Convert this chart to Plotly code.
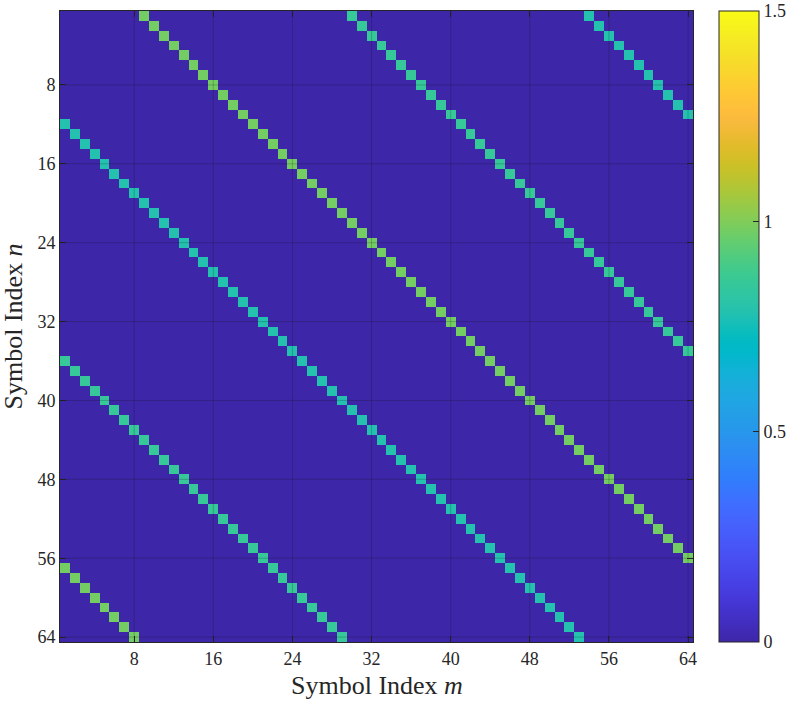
import numpy as np
import plotly.graph_objects as go

# grid size and circulant diagonals (offset = (m - n) mod N)
N = 64
offsets = [8, 29, 53]
gains = [0.98, 0.855, 0.785]
tick_vals = [8, 16, 24, 32, 40, 48, 56, 64]
cbar_ticks = [0, 0.5, 1, 1.5]

# MATLAB parula (R2014b) colormap
PARULA = [
    (0.2422, 0.1504, 0.6603), (0.2504, 0.1650, 0.7076), (0.2578, 0.1818, 0.7511),
    (0.2647, 0.1978, 0.7952), (0.2706, 0.2147, 0.8364), (0.2751, 0.2342, 0.8710),
    (0.2783, 0.2559, 0.8991), (0.2803, 0.2782, 0.9221), (0.2813, 0.3006, 0.9414),
    (0.2810, 0.3228, 0.9579), (0.2795, 0.3447, 0.9717), (0.2760, 0.3667, 0.9829),
    (0.2699, 0.3892, 0.9906), (0.2602, 0.4123, 0.9952), (0.2440, 0.4358, 0.9988),
    (0.2206, 0.4603, 0.9973), (0.1963, 0.4847, 0.9892), (0.1834, 0.5074, 0.9798),
    (0.1786, 0.5289, 0.9682), (0.1764, 0.5499, 0.9520), (0.1687, 0.5703, 0.9359),
    (0.1540, 0.5902, 0.9218), (0.1460, 0.6091, 0.9079), (0.1380, 0.6276, 0.8973),
    (0.1248, 0.6459, 0.8883), (0.1113, 0.6635, 0.8763), (0.0952, 0.6798, 0.8598),
    (0.0689, 0.6948, 0.8394), (0.0297, 0.7082, 0.8163), (0.0036, 0.7203, 0.7917),
    (0.0067, 0.7312, 0.7660), (0.0433, 0.7411, 0.7394), (0.0964, 0.7500, 0.7120),
    (0.1408, 0.7584, 0.6842), (0.1717, 0.7670, 0.6554), (0.1938, 0.7758, 0.6251),
    (0.2161, 0.7843, 0.5923), (0.2470, 0.7918, 0.5567), (0.2906, 0.7973, 0.5188),
    (0.3406, 0.8008, 0.4789), (0.3909, 0.8029, 0.4354), (0.4456, 0.8024, 0.3909),
    (0.5044, 0.7993, 0.3480), (0.5616, 0.7942, 0.3045), (0.6174, 0.7876, 0.2612),
    (0.6720, 0.7793, 0.2227), (0.7242, 0.7698, 0.1910), (0.7738, 0.7598, 0.1646),
    (0.8203, 0.7498, 0.1535), (0.8634, 0.7406, 0.1596), (0.9035, 0.7330, 0.1774),
    (0.9393, 0.7288, 0.2100), (0.9728, 0.7298, 0.2394), (0.9956, 0.7434, 0.2371),
    (0.9970, 0.7659, 0.2199), (0.9952, 0.7893, 0.2028), (0.9892, 0.8136, 0.1885),
    (0.9786, 0.8386, 0.1766), (0.9676, 0.8639, 0.1643), (0.9610, 0.8890, 0.1537),
    (0.9597, 0.9135, 0.1423), (0.9628, 0.9373, 0.1265), (0.9691, 0.9606, 0.1064),
    (0.9769, 0.9839, 0.0805),
]
colorscale = [
    [i / (len(PARULA) - 1), "rgb(%d,%d,%d)" % tuple(round(c * 255) for c in rgb)]
    for i, rgb in enumerate(PARULA)
]

idx = np.arange(1, N + 1)
z = np.zeros((N, N))
for off, g in zip(offsets, gains):
    for n in idx:
        m = (n - 1 + off) % N + 1
        z[n - 1, m - 1] = g

FONT = "Liberation Serif"
AX = "#262626"

fig = go.Figure()
fig.add_trace(go.Heatmap(
    x=idx, y=idx, z=z,
    zmin=0, zmax=1.5,
    colorscale=colorscale,
    colorbar=dict(
        x=1.041, xanchor="left", xpad=0,
        y=0.5, yanchor="middle", len=1.0, lenmode="fraction",
        thickness=40, thicknessmode="pixels",
        outlinewidth=1, outlinecolor=AX,
        tickvals=cbar_ticks, ticktext=["0", "0.5", "1", "1.5"],
        ticks="inside", ticklen=6, tickcolor=AX,
        tickfont=dict(family=FONT, size=18, color=AX),
        ypad=0,
    ),
    hovertemplate="m=%{x}, n=%{y}: %{z:.3f}<extra></extra>",
))

# MATLAB draws the grid on top of the image
for t in tick_vals:
    fig.add_shape(type="line", xref="x", yref="paper", x0=t, x1=t, y0=0, y1=1,
                  line=dict(color="rgba(20,20,20,0.22)", width=1), layer="above")
    fig.add_shape(type="line", xref="paper", yref="y", x0=0, x1=1, y0=t, y1=t,
                  line=dict(color="rgba(20,20,20,0.22)", width=1), layer="above")

axis_common = dict(
    tickvals=tick_vals,
    ticks="inside", ticklen=6, tickcolor=AX, tickwidth=1,
    showline=True, linecolor=AX, linewidth=1, mirror="ticks",
    showgrid=False, zeroline=False, automargin=False,
    tickfont=dict(family=FONT, size=18, color=AX),
    layer="above traces",
)

fig.update_layout(
    width=793, height=701,
    margin=dict(l=60, r=100, t=11, b=59, autoexpand=False),
    paper_bgcolor="white", plot_bgcolor="white",
    xaxis=dict(range=[0.5, N + 0.5], **axis_common),
    yaxis=dict(range=[N + 0.5, 0.5], **axis_common),
    annotations=[
        dict(text="Symbol Index <i>m</i>", xref="paper", yref="paper",
             x=0.5, y=-0.0697, xanchor="center", yanchor="middle",
             showarrow=False, font=dict(family=FONT, size=26, color=AX)),
        dict(text="Symbol Index <i>n</i>", xref="paper", yref="paper",
             x=-0.0742, y=0.5, xanchor="center", yanchor="middle", textangle=-90,
             showarrow=False, font=dict(family=FONT, size=26, color=AX)),
    ],
)

# drop the default 8px body margin so the figure fills the window exactly
fig.write_html("out.html", config={"displayModeBar": False},
               post_script="document.body.style.margin = '0px';")
